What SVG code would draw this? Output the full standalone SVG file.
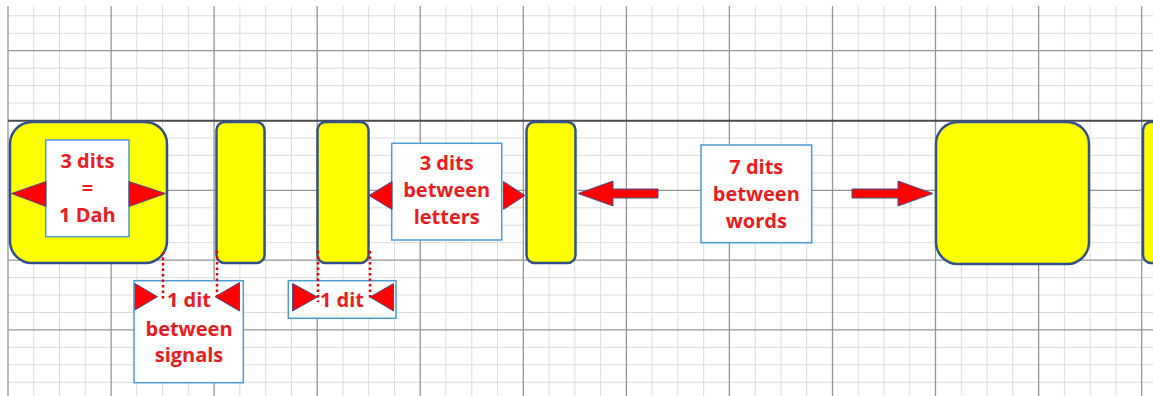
<svg xmlns="http://www.w3.org/2000/svg" width="1153" height="396" viewBox="0 0 1153 396">
<style>
.minor{stroke:#dcdcdc;stroke-width:1;fill:none}
.major{stroke:#959595;stroke-width:1.3;fill:none}
.base{stroke:#4a4a4a;stroke-width:2;fill:none}
.sig{fill:#ffff00;stroke:#34508a;stroke-width:2.5}
.lbl{fill:#ffffff;stroke:#4a9bd2;stroke-width:1.5}
.tri{fill:#ff0000;stroke:#4a4f8a;stroke-width:1}
.dot{stroke:#e60000;stroke-width:2.5;stroke-dasharray:2.5 3;fill:none}
text{font-family:"Open Sans","Liberation Sans",sans-serif;font-weight:700;font-size:20px;fill:#ec1c24;text-anchor:middle}
</style>
<rect width="1153" height="396" fill="#ffffff"/>
<g id="grid">
<path class="minor" d="M33.8,6V396M59.5,6V396M85.3,6V396M136.8,6V396M162.6,6V396M188.4,6V396M239.9,6V396M265.7,6V396M291.4,6V396M343,6V396M368.7,6V396M394.5,6V396M446,6V396M471.8,6V396M497.5,6V396M549.1,6V396M574.8,6V396M600.6,6V396M652.1,6V396M677.9,6V396M703.7,6V396M755.2,6V396M781,6V396M806.7,6V396M858.3,6V396M884,6V396M909.8,6V396M961.3,6V396M987.1,6V396M1012.8,6V396M1064.4,6V396M1090.1,6V396M1115.9,6V396
M8,15.8H1153M8,33.3H1153M8,68.2H1153M8,85.6H1153M8,103.1H1153M8,138H1153M8,155.4H1153M8,172.9H1153M8,207.8H1153M8,225.2H1153M8,242.7H1153M8,277.6H1153M8,295H1153M8,312.5H1153M8,347.4H1153M8,364.8H1153M8,382.3H1153"/>
<path class="major" d="M8,6V396M111.1,6V396M214.1,6V396M317.2,6V396M420.2,6V396M523.3,6V396M626.4,6V396M729.4,6V396M832.5,6V396M935.5,6V396M1038.6,6V396M1141.7,6V396
M8,50.7H1153M8,190.3H1153M8,260.1H1153M8,329.9H1153"/>
<path class="base" d="M8,120.7H1153"/>
</g>
<g id="dah">
<rect class="sig" x="10" y="122" width="157" height="141" rx="22"/>
</g>
<g id="signal2">
<rect class="sig" x="216.5" y="122" width="48" height="141" rx="8"/>
</g>
<g id="signal3">
<rect class="sig" x="317.5" y="122" width="51" height="141" rx="8"/>
</g>
<g id="signal4">
<rect class="sig" x="526.5" y="122" width="49" height="141" rx="8"/>
</g>
<g id="signal5">
<rect class="sig" x="936" y="122" width="153" height="142" rx="22"/>
</g>
<g id="signal6">
<rect class="sig" x="1143" y="122" width="40" height="141" rx="8"/>
</g>
<g id="label-dah">
<rect class="lbl" x="45.7" y="140" width="83.3" height="96.7"/>
<text x="87.4" y="168.3">3 dits</text>
<text x="87.4" y="195">=</text>
<text x="87.4" y="221.7">1 Dah</text>
</g>
<g id="label-letters">
<rect class="lbl" x="391.7" y="143.3" width="110" height="96.7"/>
<text x="446.7" y="170">3 dits</text>
<text x="446.7" y="197">between</text>
<text x="446.7" y="224">letters</text>
</g>
<g id="label-words">
<rect class="lbl" x="701" y="145" width="110.7" height="97.7"/>
<text x="756.3" y="174">7 dits</text>
<text x="756.3" y="201">between</text>
<text x="756.3" y="228">words</text>
</g>
<g id="label-signals">
<rect class="lbl" x="134" y="280.7" width="109.3" height="102"/>
<text x="189" y="307">1 dit</text>
<text x="189" y="336">between</text>
<text x="189" y="362">signals</text>
</g>
<g id="label-1dit">
<rect class="lbl" x="288.3" y="280.7" width="107.7" height="37.6"/>
<text x="342" y="307">1 dit</text>
</g>
<g id="connectors">
<polygon class="tri" points="11.5,193.5 46,181.5 46,206.5"/>
<polygon class="tri" points="165.5,193.5 129,181.5 129,206.5"/>
<polygon class="tri" points="369,195.5 392,181.5 392,209.5"/>
<polygon class="tri" points="525,195.5 503.5,181.5 503.5,209.5"/>
<path class="tri" d="M578,193.5L613,181L613,189L658,189L658,198L613,198L613,206Z"/>
<path class="tri" d="M933,193.5L898,181L898,189L852,189L852,198L898,198L898,206Z"/>
<polygon class="tri" points="135,283.5 135,310 157.5,296.7"/>
<polygon class="tri" points="239.5,282.5 239.5,311 215,296.7"/>
<polygon class="tri" points="292.5,283.5 292.5,311 317.5,297"/>
<polygon class="tri" points="393.5,283.5 393.5,311 370,297"/>
<path class="dot" d="M163,252V300M217,251V296M318,251V302M370,251V300"/>
</g>
</svg>
